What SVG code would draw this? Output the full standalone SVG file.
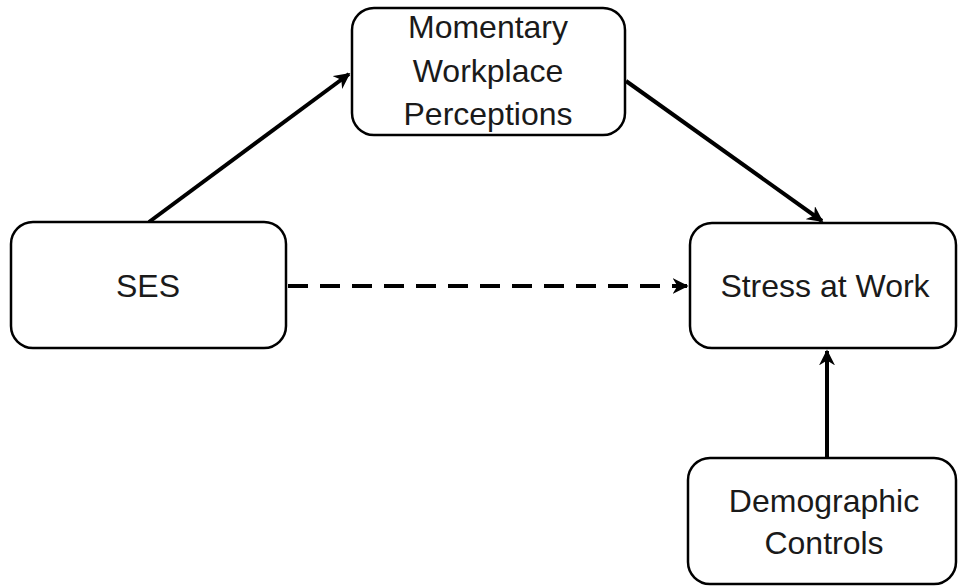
<svg xmlns="http://www.w3.org/2000/svg" width="958" height="587" viewBox="0 0 958 587">
<style>
.box{fill:#fff;stroke:#000;stroke-width:2.5}
.lbl{font-family:"Liberation Sans",Arial,sans-serif;font-size:32px;fill:#1a1a1a;text-anchor:middle}
.con{stroke:#000;stroke-width:4;fill:none}
</style>
<defs>
<marker id="ah" viewBox="0 0 10 10" refX="9" refY="5" markerWidth="4" markerHeight="4" orient="auto" markerUnits="strokeWidth">
<path d="M0,0 L10,5 L0,10 L3,5 z" fill="#000"/>
</marker>
</defs>
<g id="connectors">
<line class="con" x1="149" y1="222" x2="349" y2="74" marker-end="url(#ah)"/>
<line class="con" x1="626" y1="81" x2="822" y2="221" marker-end="url(#ah)"/>
<line class="con" x1="288" y1="286" x2="687" y2="286" stroke-dasharray="20,12" marker-end="url(#ah)"/>
<line class="con" x1="827" y1="458" x2="827" y2="351" marker-end="url(#ah)"/>
</g>
<g id="momentary">
<rect class="box" x="352" y="8" width="273" height="127" rx="22"/>
<text class="lbl" x="488" y="38">Momentary</text>
<text class="lbl" x="488" y="82">Workplace</text>
<text class="lbl" x="488" y="125">Perceptions</text>
</g>
<g id="ses">
<rect class="box" x="11" y="222" width="275" height="126" rx="22"/>
<text class="lbl" x="148" y="297">SES</text>
</g>
<g id="stress">
<rect class="box" x="690" y="223" width="266" height="125" rx="22"/>
<text class="lbl" x="825" y="297">Stress at Work</text>
</g>
<g id="demographic">
<rect class="box" x="688" y="458" width="268" height="126" rx="22"/>
<text class="lbl" x="824" y="512">Demographic</text>
<text class="lbl" x="824" y="554">Controls</text>
</g>
</svg>
